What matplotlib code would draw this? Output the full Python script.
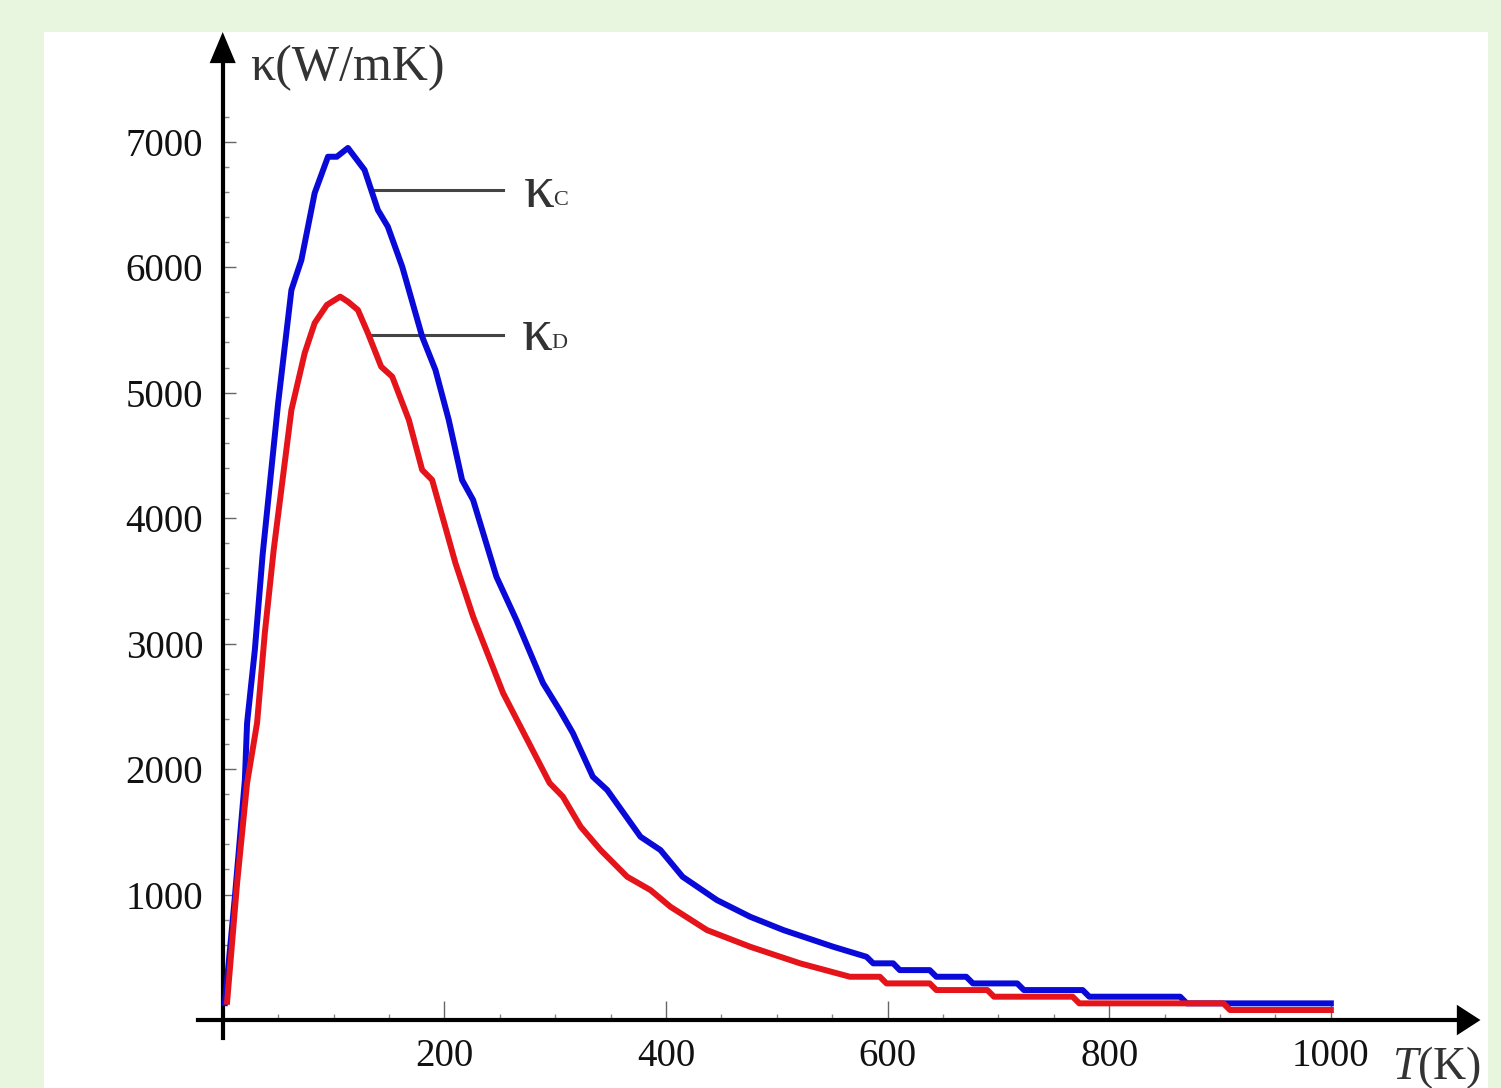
import numpy as np
import matplotlib
matplotlib.use('Agg')
import matplotlib.pyplot as plt
from matplotlib.patches import Rectangle

plt.rcParams['font.family'] = ['Liberation Serif', 'DejaVu Serif']
plt.rcParams['mathtext.fontset'] = 'custom'
plt.rcParams['mathtext.rm'] = 'Liberation Serif'
plt.rcParams['mathtext.it'] = 'Liberation Serif:italic'

# kappa_C (blue)
temp_c = [2, 11, 20, 22, 29, 36, 50, 62, 71, 83, 95, 103, 113, 128, 140,
          149, 162, 180, 192, 204, 216, 226, 247, 265, 289, 304, 316, 334,
          347, 377, 395, 415, 446, 476, 506, 551, 581, 587, 605, 611, 638,
          644, 671, 677, 717, 723, 776, 782, 864, 870, 1000]
kappa_c = [135, 983, 1913, 2367, 2949, 3706, 4915, 5818, 6057, 6591, 6880,
           6880, 6950, 6775, 6456, 6323, 6004, 5446, 5180, 4782, 4304, 4144,
           3533, 3188, 2686, 2471, 2287, 1939, 1833, 1461, 1355, 1142, 956,
           823, 717, 584, 504, 452, 452, 398, 398, 345, 345, 292, 292, 239,
           239, 186, 186, 133, 133]

# kappa_D (red)
temp_d = [4, 13, 22, 31, 38, 46, 62, 74, 83, 94, 106, 113, 122, 131, 143,
          153, 168, 180, 189, 210, 226, 253, 295, 307, 323, 341, 365, 386,
          404, 437, 476, 521, 566, 593, 599, 638, 644, 690, 696, 767, 773,
          903, 909, 1000]
kappa_d = [146, 1092, 1889, 2367, 3084, 3746, 4862, 5316, 5555, 5699, 5765,
           5725, 5659, 5475, 5207, 5127, 4782, 4384, 4304, 3642, 3214, 2606,
           1889, 1780, 1541, 1355, 1142, 1036, 903, 717, 584, 452, 345, 345,
           292, 292, 239, 239, 186, 186, 133, 133, 80, 80]

x_major = [200, 400, 600, 800, 1000]
y_major = [1000, 2000, 3000, 4000, 5000, 6000, 7000]

fig = plt.figure(figsize=(15.01, 10.88), dpi=100, facecolor='#e8f5df')
fig.patches.append(Rectangle((44 / 1501, 0), 1444 / 1501, 1056 / 1088,
                             transform=fig.transFigure, fc='white', ec='none',
                             zorder=-10))

ax = fig.add_axes([195 / 1501, 47 / 1088, 1291 / 1501, 1011 / 1088])
ax.set_zorder(5)
ax.set_facecolor('none')
ax.set_xlim(-25, 1140)
ax.set_ylim(-167, 7890)

# axes through origin
for s in ['top', 'right']:
    ax.spines[s].set_visible(False)
ax.spines['left'].set_position(('data', 0))
ax.spines['bottom'].set_position(('data', 0))
ax.spines['left'].set_bounds(-140, 7660)
ax.spines['bottom'].set_bounds(-22, 1118)
ax.spines['left'].set_linewidth(3)
ax.spines['bottom'].set_linewidth(3)

ax.annotate('', xy=(0, 7874), xytext=(0, 7600),
            arrowprops=dict(arrowstyle='-|>,head_length=1.12,head_width=0.47',
                            color='k', lw=0, shrinkA=0, shrinkB=0,
                            mutation_scale=20))
ax.annotate('', xy=(1135, 0), xytext=(1100, 0),
            arrowprops=dict(arrowstyle='-|>,head_length=0.85,head_width=0.55',
                            color='k', lw=0, shrinkA=0, shrinkB=0,
                            mutation_scale=20))

ax.set_xticks(x_major)
ax.set_xticks(np.arange(50, 1001, 50), minor=True)
ax.set_yticks(y_major)
ax.set_yticks(np.arange(200, 7201, 200), minor=True)
ax.set_xticklabels([str(v) for v in x_major])
ax.set_yticklabels([str(v) for v in y_major])
ax.tick_params(which='both', direction='in', color='#666666', width=1,
               labelsize=28, labelcolor='#111111')
ax.tick_params(axis='x', which='major', length=14, pad=13)
ax.tick_params(axis='y', which='major', length=9, pad=14)
ax.tick_params(which='minor', length=4.5, color='#888888')

ax.plot(temp_c, kappa_c, color='#0a0ad8', lw=4.3, solid_joinstyle='round',
        zorder=5)
ax.plot(temp_d, kappa_d, color='#e5141a', lw=4.3, solid_joinstyle='round',
        zorder=5)

# labels with leader lines
ax.plot([137, 253], [6615, 6615], color='#444444', lw=2.2, zorder=4)
ax.plot([133, 253], [5459, 5459], color='#444444', lw=2.2, zorder=4)
t1 = ax.text(272, 6480, 'κ', fontsize=44, va='baseline', ha='left', color='#333333')
ax.annotate('C', xy=(1, 0), xycoords=t1, xytext=(-1, 7), textcoords='offset points',
            fontsize=16, va='bottom', ha='left', color='#333333')
t2 = ax.text(270, 5340, 'κ', fontsize=44, va='baseline', ha='left', color='#333333')
ax.annotate('D', xy=(1, 0), xycoords=t2, xytext=(-1, 7), textcoords='offset points',
            fontsize=16, va='bottom', ha='left', color='#333333')

ax.text(25, 7492, 'κ(W/mK)', fontsize=36, va='baseline', ha='left',
        color='#333333', clip_on=False)
ax.text(1055, -470, '$T$(K)', fontsize=33, va='baseline', ha='left',
        color='#333333', clip_on=False)

fig.savefig('out.png', dpi=100, facecolor=fig.get_facecolor())
